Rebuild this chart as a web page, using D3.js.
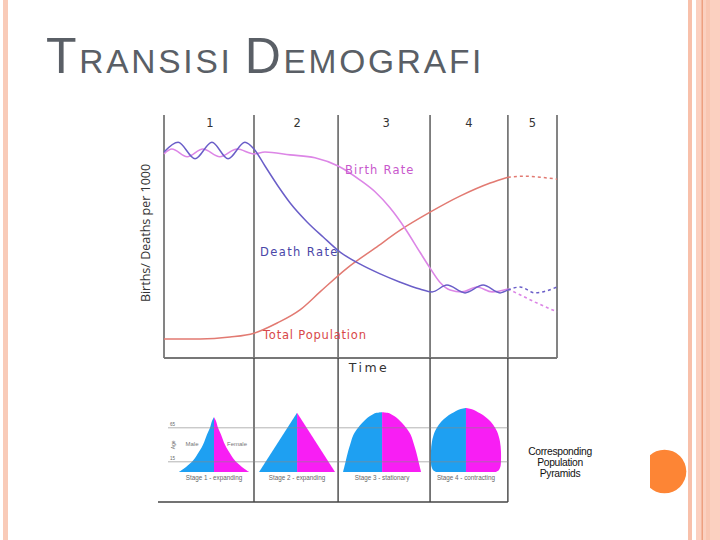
<!DOCTYPE html>
<html><head><meta charset="utf-8">
<script src="https://cdn.jsdelivr.net/npm/d3@7"></script>
<style>html,body{margin:0;padding:0;background:#fff;}svg{display:block;}</style>
</head><body>
<script>
// ---------------- DATA ----------------
const stageNames = ["1","2","3","4","5"];
const stageBounds = [0, 22.9, 44.3, 67.7, 87.5, 100];   // time units

const birthT = [0,2.0,5.9,9.9,14.2,18.6,22.9,25.7,32.1,38.4,44.3,49.9,53.7,57.5,61.3,65.1,67.7,70.2,72.8,75.8,79.6,83.5,87.5];
const birthV = [42.0,43.0,41.4,43.0,41.4,43.0,42.0,42.4,41.8,41.2,39.5,36.6,34.2,30.9,26.7,21.8,18.5,15.6,14.0,13.6,14.6,13.6,14.2];
const birthProjT = [87.5,90.6,94.4,100];
const birthProjV = [14.2,13.0,11.5,9.5];

const deathT = [0,3.6,7.9,12.2,16.3,20.6,22.9,25.7,29.0,32.1,36.4,40.5,44.8,49.9,55.0,60.1,65.1,68.2,72.0,76.6,81.2,85.5,87.5];
const deathV = [42.4,44.4,41.0,44.4,41.0,44.4,43.0,39.5,35.4,31.9,28.0,24.9,21.8,19.3,17.3,15.6,14.2,13.6,15.0,13.4,15.0,13.4,14.0];
const deathProjT = [87.5,90.6,94.4,100];
const deathProjV = [14.0,14.6,13.4,14.6];

const popT = [0,9.2,16.8,22.9,28.8,34.6,39.7,46.6,53.7,60.1,67.7,75.3,83.0,87.5];
const popV = [3.9,3.9,4.3,5.1,7.2,9.9,13.6,18.5,22.6,26.3,30.0,33.3,36.0,37.2];
const popProjT = [87.5,91.9,95.7,100];
const popProjV = [37.2,37.4,37.2,36.8];

const seriesLabels = ["Birth Rate","Death Rate","Total Population"];

// Population pyramids: ages and half-widths (relative share) per stage
const pyrCaptions = ["Stage 1 - expanding","Stage 2 - expanding","Stage 3 - stationary","Stage 4 - contracting"];
const pyrAges = [
  [0,5,10,15,25,40,55,65,75,81],
  [0,87],
  [0,15,30,45,55,65,72,78,82,85,87,88],
  [0,3,8,15,30,45,60,70,78,84,88,91,93,94]
];
const pyrWidths = [
  [35,30,26,22,17,11,7,4,2,0],
  [38,0],
  [39,36.5,34,31,28.5,24,20,16,12.5,9,5.5,0],
  [30,33,34.5,35,35,34,31,27,22,17,12,8,4,0]
];
const ageTicks = [15, 65];
const ageTickLabels = ["15","65"];
const pyrNote = ["Corresponding","Population","Pyramids"];

// ---------------- LAYOUT ----------------
const W = 720, H = 540;
const svg = d3.select("body").append("svg").attr("width", W).attr("height", H);

// slide decoration
svg.append("rect").attr("x",3).attr("y",0).attr("width",5).attr("height",H).attr("fill","#f9cbb8");
svg.append("rect").attr("x",688).attr("y",0).attr("width",4).attr("height",H).attr("fill","#f8c0aa");
svg.append("rect").attr("x",696).attr("y",0).attr("width",24).attr("height",H).attr("fill","#fbd0c0");
svg.append("rect").attr("x",701.5).attr("y",0).attr("width",1.5).attr("height",H).attr("fill","#eea080");
svg.append("rect").attr("x",706).attr("y",0).attr("width",4).attr("height",H).attr("fill","#f9c6b2");
svg.append("clipPath").attr("id","cc").append("rect").attr("x",650).attr("y",440).attr("width",40).attr("height",60);
svg.append("circle").attr("cx",664.5).attr("cy",471.5).attr("r",21.8).attr("fill","#fd8535").attr("clip-path","url(#cc)");

// title with small caps
const title = svg.append("text").attr("x",46).attr("y",73)
  .attr("font-family","'Liberation Sans', Arial, sans-serif").attr("fill","#5a5f66")
  .attr("letter-spacing","2.75px");
title.append("tspan").attr("font-size",50).text("T");
title.append("tspan").attr("font-size",33.5).text("RANSISI ");
title.append("tspan").attr("font-size",50).text("D");
title.append("tspan").attr("font-size",33.5).text("EMOGRAFI");

// chart scales
const x = d3.scaleLinear().domain([0,100]).range([164,557]);
const y = d3.scaleLinear().domain([0,50]).range([358,115]);
const gridColor = "#777";

const g = svg.append("g");

// stage boundaries (top panel)
stageBounds.forEach((b,i) => {
  g.append("line").attr("x1",x(b)).attr("x2",x(b)).attr("y1",115).attr("y2",358)
   .attr("stroke",gridColor).attr("stroke-width",1.8);
});
g.append("line").attr("x1",x(0)).attr("x2",x(100)).attr("y1",358).attr("y2",358)
 .attr("stroke",gridColor).attr("stroke-width",1.8);

// stage numbers
stageNames.forEach((s,i) => {
  g.append("text").attr("x",(x(stageBounds[i])+x(stageBounds[i+1]))/2 + [1,1,2,0,0][i])
   .attr("y",127).attr("text-anchor","middle")
   .attr("font-family","'DejaVu Sans', Verdana, sans-serif").attr("font-size",11.5)
   .attr("fill","#333").text(s);
});

// lines
const line = d3.line().x(d=>x(d[0])).y(d=>y(d[1])).curve(d3.curveMonotoneX);
const zip = (a,b) => a.map((v,i)=>[v,b[i]]);
const birthCol = "#dc86e6", deathCol = "#6a5ec8", popCol = "#e27a72";

g.append("path").attr("d",line(zip(popT,popV))).attr("fill","none").attr("stroke",popCol).attr("stroke-width",1.5);
g.append("path").attr("d",line(zip(popProjT,popProjV))).attr("fill","none").attr("stroke",popCol).attr("stroke-width",1.5).attr("stroke-dasharray","3,3");
g.append("path").attr("d",line(zip(birthT,birthV))).attr("fill","none").attr("stroke",birthCol).attr("stroke-width",1.6);
g.append("path").attr("d",line(zip(birthProjT,birthProjV))).attr("fill","none").attr("stroke",birthCol).attr("stroke-width",1.6).attr("stroke-dasharray","3,3");
g.append("path").attr("d",line(zip(deathT,deathV))).attr("fill","none").attr("stroke",deathCol).attr("stroke-width",1.5);
g.append("path").attr("d",line(zip(deathProjT,deathProjV))).attr("fill","none").attr("stroke",deathCol).attr("stroke-width",1.5).attr("stroke-dasharray","3,3");

// series labels
const lab = (t, px, py, col, ls) => g.append("text").attr("x",px).attr("y",py)
  .attr("font-family","'DejaVu Sans', Verdana, sans-serif").attr("font-size",11.5)
  .attr("letter-spacing",ls).attr("fill",col).text(t);
lab(seriesLabels[0], 345, 174, "#c857cc", "1.2px");
lab(seriesLabels[1], 260, 256, "#4a46a8", "1.4px");
lab(seriesLabels[2], 263, 339, "#d84848", "0.8px");

// axis titles
svg.append("text").attr("transform","translate(150,233) rotate(-90)").attr("text-anchor","middle")
  .attr("font-family","'Open Sans', 'Noto Sans', sans-serif").attr("font-size",12.5)
  .attr("fill","#333").text("Births/ Deaths per 1000");
svg.append("text").attr("x",369).attr("y",372).attr("text-anchor","middle")
  .attr("font-family","'DejaVu Sans', Verdana, sans-serif").attr("font-size",12.5)
  .attr("letter-spacing","2.5px").attr("fill","#333").text("Time");

// ---------------- PYRAMIDS PANEL ----------------
const age = d3.scaleLinear().domain([0,100]).range([472,404]);
const wid = d3.scaleLinear().domain([0,40]).range([0,40]);
const pyrOffset = [5, 1, -2, -3];

[1,2,3,4].forEach(i => {
  g.append("line").attr("x1",x(stageBounds[i])).attr("x2",x(stageBounds[i])).attr("y1",358).attr("y2",502)
   .attr("stroke","#444").attr("stroke-width",1.4);
});
g.append("line").attr("x1",158).attr("x2",x(stageBounds[4])).attr("y1",502).attr("y2",502)
 .attr("stroke","#444").attr("stroke-width",1.4);

pyrAges.forEach((ages,k) => {
  const cx = (x(stageBounds[k])+x(stageBounds[k+1]))/2 + pyrOffset[k];
  const pts = ages.map((a,i)=>[a,pyrWidths[k][i]]);
  const curve = pts.length > 2 ? d3.curveCatmullRom.alpha(0.5) : d3.curveLinear;
  const left = d3.area().y(d=>age(d[0])).x0(cx).x1(d=>cx - wid(d[1])).curve(curve);
  const right = d3.area().y(d=>age(d[0])).x0(cx).x1(d=>cx + wid(d[1])).curve(curve);
  g.append("path").attr("d",left(pts)).attr("fill","#1ea0f2");
  g.append("path").attr("d",right(pts)).attr("fill","#f81ef4");
  g.append("text").attr("x",cx).attr("y",479.5).attr("text-anchor","middle")
   .attr("font-family","'Liberation Sans', Arial, sans-serif").attr("font-size",6.3)
   .attr("fill","#666").text(pyrCaptions[k]);
});

ageTicks.forEach((a,i) => {
  g.append("line").attr("x1",168).attr("x2",x(stageBounds[4])).attr("y1",age(a)).attr("y2",age(a))
   .attr("stroke","#888").attr("stroke-width",0.8).attr("stroke-opacity",0.8);
  g.append("text").attr("x",170).attr("y",age(a)-1.5).attr("font-family","'Liberation Sans', Arial, sans-serif")
   .attr("font-size",4.5).attr("fill","#666").text(ageTickLabels[i]);
});
g.append("text").attr("transform",`translate(175,${age(40)}) rotate(-90)`).attr("text-anchor","middle")
 .attr("font-family","'Liberation Sans', Arial, sans-serif").attr("font-size",5).attr("fill","#666").text("Age");
g.append("text").attr("x",192).attr("y",446).attr("text-anchor","middle")
 .attr("font-family","'Liberation Sans', Arial, sans-serif").attr("font-size",6).attr("fill","#777").text("Male");
g.append("text").attr("x",237).attr("y",446).attr("text-anchor","middle")
 .attr("font-family","'Liberation Sans', Arial, sans-serif").attr("font-size",6).attr("fill","#777").text("Female");

pyrNote.forEach((t,i) => {
  svg.append("text").attr("x",560).attr("y",455+i*10.8).attr("text-anchor","middle")
   .attr("font-family","'Liberation Sans', Arial, sans-serif").attr("font-size",10.3)
   .attr("letter-spacing","-0.3px").attr("fill","#111").text(t);
});
</script>
</body></html>
